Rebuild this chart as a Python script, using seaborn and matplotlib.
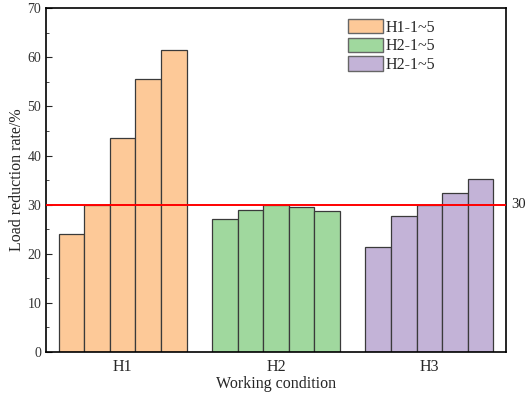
import matplotlib
matplotlib.use("Agg")
import matplotlib.pyplot as plt
import pandas as pd
import seaborn as sns
from matplotlib.patches import Patch
from matplotlib.ticker import MultipleLocator

# Data
conditions = ["H1", "H2", "H3"]
h1_values = [24.1, 30.0, 43.6, 55.5, 61.5]
h2_values = [27.1, 28.9, 30.0, 29.5, 28.7]
h3_values = [21.3, 27.7, 30.0, 32.4, 35.3]
legend_labels = ["H1-1~5", "H2-1~5", "H2-1~5"]
threshold = 30

colors = ["#FDC998", "#A0D89E", "#C3B3D7"]

rows = []
for cond, vals in zip(conditions, [h1_values, h2_values, h3_values]):
    for i, v in enumerate(vals, start=1):
        rows.append({"condition": cond, "case": str(i), "rate": v})
df = pd.DataFrame(rows)

sns.set_style("ticks")
plt.rcParams["font.family"] = ["Liberation Serif", "DejaVu Serif"]

fig = plt.figure(figsize=(5.26, 3.97), dpi=100)
ax = fig.add_axes([0.0875, 0.1134, 0.8745, 0.866])

sns.barplot(
    data=df, x="condition", y="rate", hue="case",
    width=0.833, gap=0, dodge=True, errorbar=None,
    edgecolor="#3a3a3a", linewidth=0.9, legend=False, ax=ax,
)

# colour bars by working condition rather than by case
for container in ax.containers:
    for j, bar in enumerate(container):
        bar.set_facecolor(colors[j])

ax.axhline(threshold, color="#FF0000", linewidth=1.4, zorder=5)
ax.text(1.012, threshold, "30", transform=ax.get_yaxis_transform(),
        va="center", ha="left", fontsize=10.5, color="#222222")

ax.set_xlim(-0.5, 2.5)
ax.set_ylim(0, 70)
ax.yaxis.set_major_locator(MultipleLocator(10))
ax.yaxis.set_minor_locator(MultipleLocator(5))
ax.tick_params(axis="y", which="both", direction="in", labelsize=10,
               labelcolor="#333333")
ax.tick_params(axis="y", which="major", length=4)
ax.tick_params(axis="y", which="minor", length=2.5)
ax.tick_params(axis="x", length=0, labelsize=11.5, pad=5)
for s in ax.spines.values():
    s.set_visible(True)
    s.set_linewidth(1.2)
    s.set_color("black")

ax.set_xlabel("Working condition", fontsize=11.5, labelpad=1)
ax.set_ylabel("Load reduction rate/%", fontsize=11.5, labelpad=2)

handles = [Patch(facecolor=c, edgecolor="#666666", linewidth=1) for c in colors]
ax.legend(handles, legend_labels, loc="upper left", bbox_to_anchor=(0.657, 0.968),
          frameon=False, fontsize=11.5, handlelength=2.15, handleheight=1.0,
          handletextpad=0.2, labelspacing=0.12, borderaxespad=0, borderpad=0)

fig.savefig("out.png", dpi=100)
